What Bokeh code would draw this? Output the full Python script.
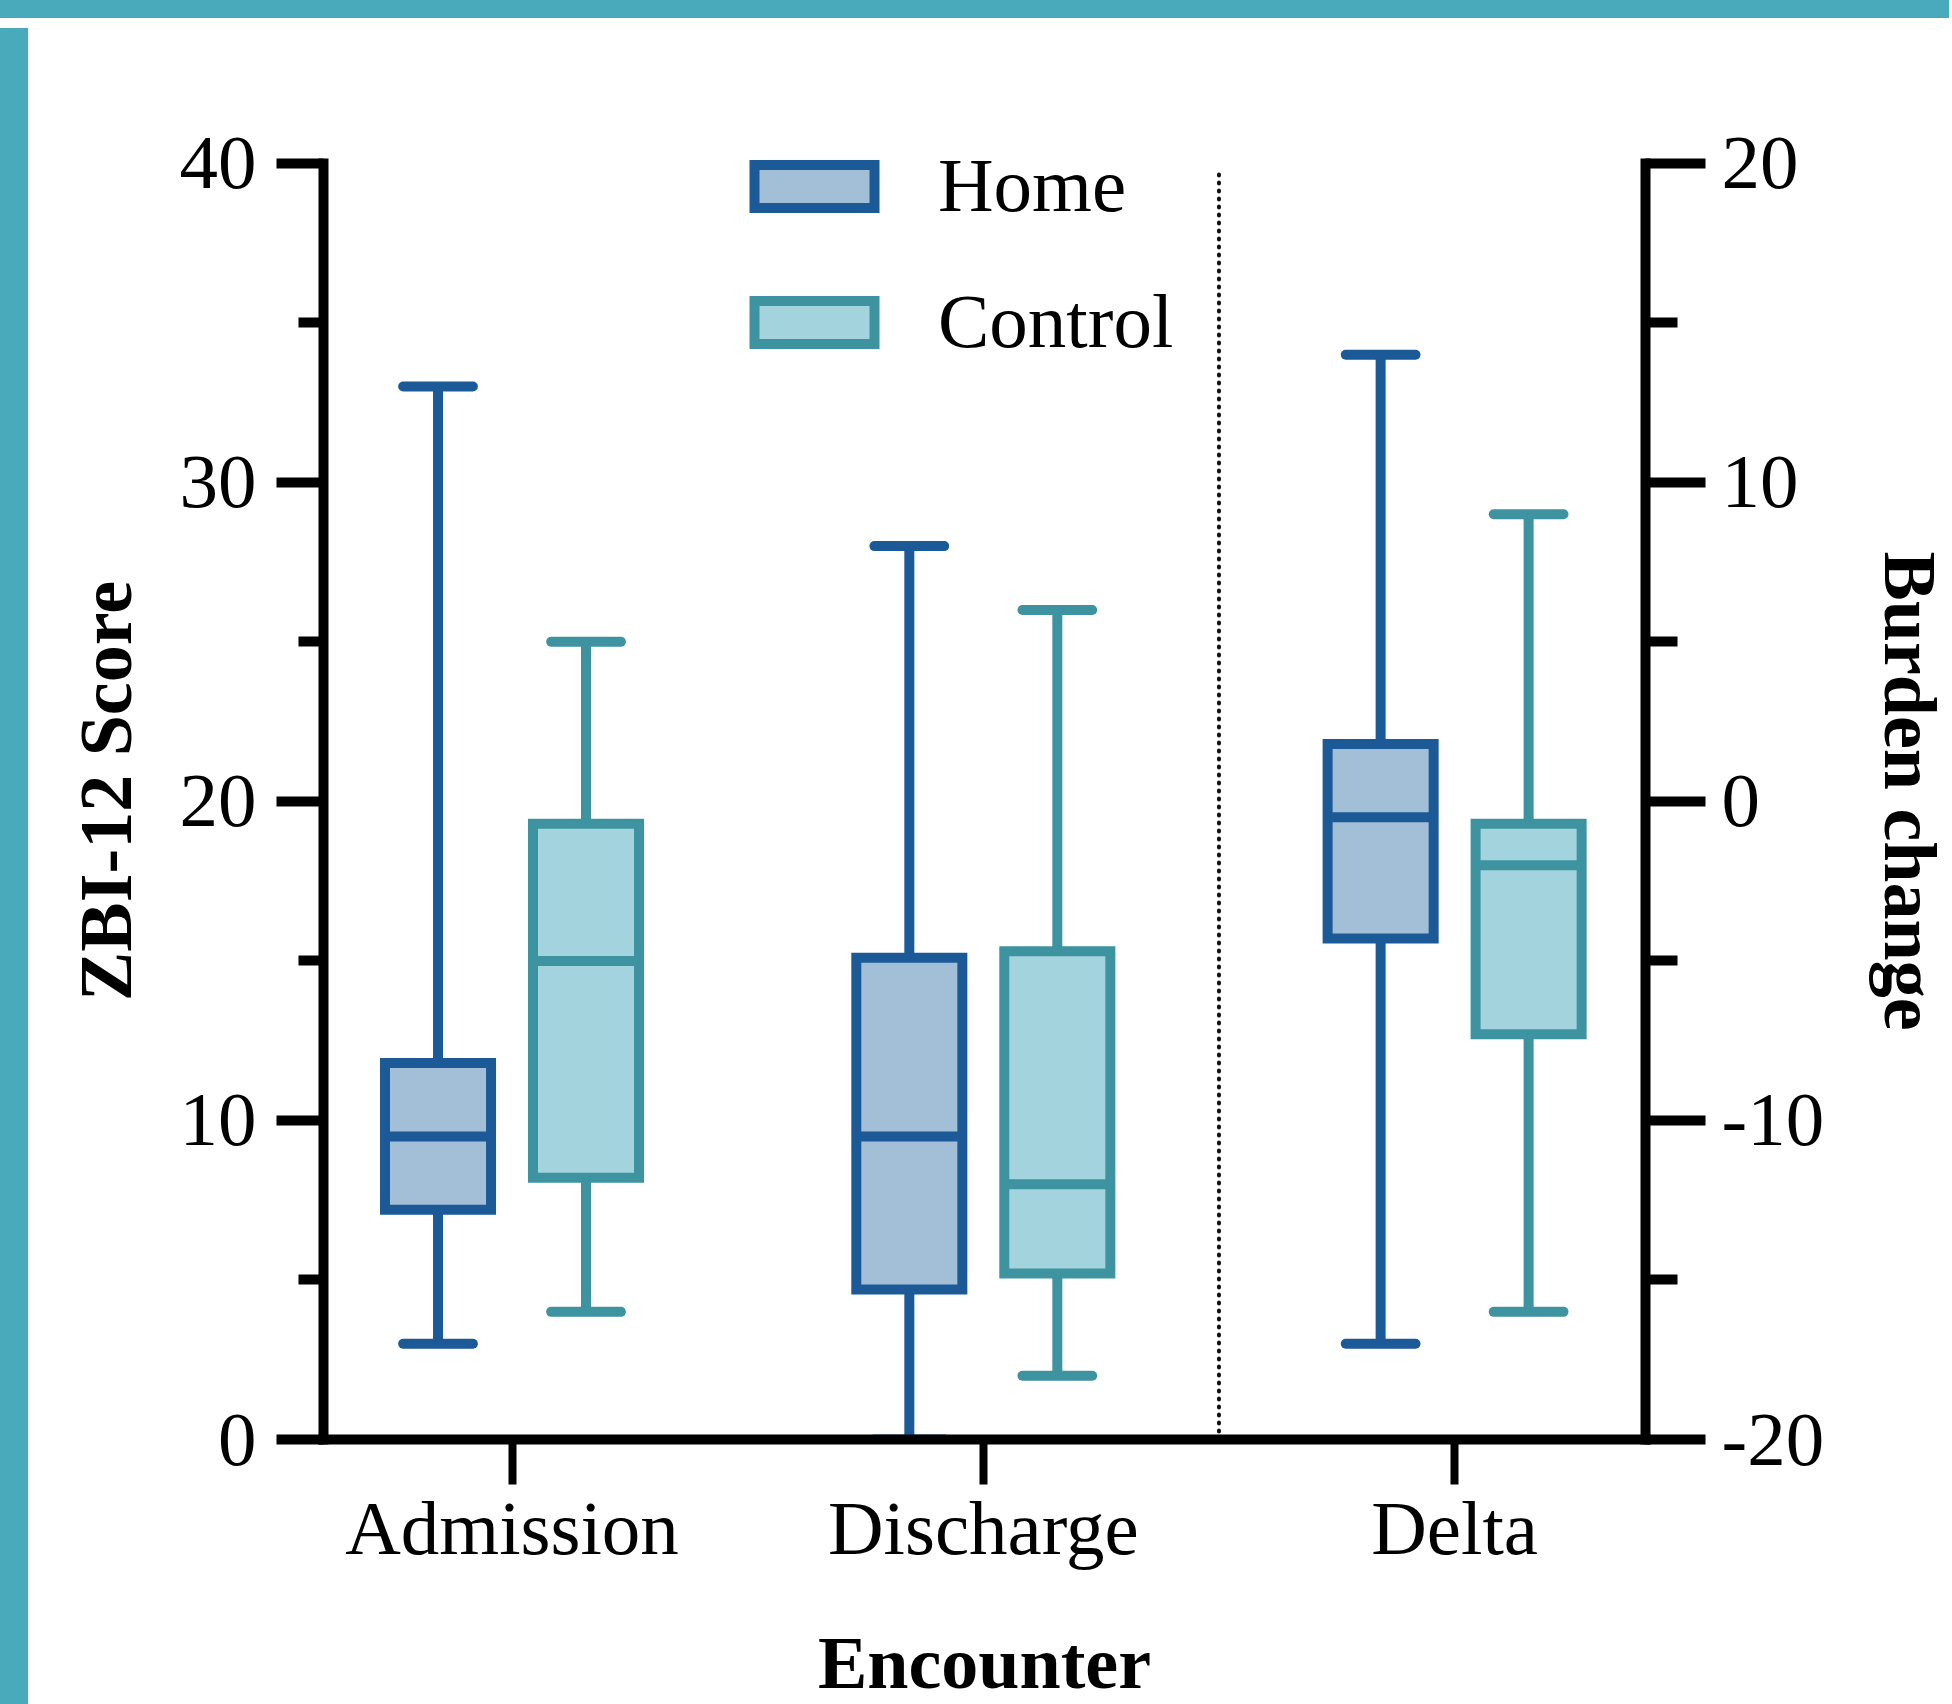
from bokeh.plotting import figure
from bokeh.models import (Range1d, LinearAxis, FixedTicker, ColumnDataSource,
                          Legend, LegendItem, Div)
from bokeh.layouts import row, column
from bokeh.embed import file_html
from bokeh.resources import INLINE

# ---------------- data ----------------
categories = ["Admission", "Discharge", "Delta"]
# Home group: whisker min, Q1, median, Q3, whisker max
home_min = [3, 0, -17]
home_q1 = [7.2, 4.7, -4.3]
home_med = [9.5, 9.5, -0.5]
home_q3 = [11.8, 15.1, 1.8]
home_max = [33, 28, 14]
# Control group
ctrl_min = [4, 2, -16]
ctrl_q1 = [8.2, 5.2, -7.3]
ctrl_med = [15, 8, -2]
ctrl_q3 = [19.3, 15.3, -0.7]
ctrl_max = [25, 26, 9]

left_ticks = [0, 10, 20, 30, 40]
left_minor = [5, 15, 25, 35]
right_ticks = [-20, -10, 0, 10, 20]
right_minor = [-15, -5, 5, 15]
series_names = ["Home", "Control"]

# ---------------- style ----------------
TEAL = "#48aaba"
HOME_LINE, HOME_FILL = "#1b5a96", "#a3bed7"
CTRL_LINE, CTRL_FILL = "#3d93a0", "#a3d4de"
FONT = "Liberation Serif"
BOX_W = 0.225
OFFSET = 0.157
CAP = 0.074
HEADROOM = 0.65  # small extra frame space above the axes' top so the legend is not clipped

W, H = 1921, 1683
p = figure(width=W, height=H, output_backend="svg", toolbar_location=None,
           x_range=Range1d(-0.4, 2.405),
           y_range=Range1d(left_ticks[0], left_ticks[-1] + HEADROOM),
           min_border_left=290, min_border_right=305, min_border_top=119,
           min_border_bottom=265)
p.extra_y_ranges = {"right": Range1d(right_ticks[0], right_ticks[-1] + HEADROOM)}
p.xgrid.visible = False
p.ygrid.visible = False
p.outline_line_color = None
p.background_fill_color = "white"
p.border_fill_color = "white"


def draw_group(idx, offset, mins, q1, med, q3, maxs, lc, fc):
    boxes = []
    # left axis: Admission & Discharge; right axis: Delta
    for sel, rng in (([0, 1], "default"), ([2], "right")):
        xs = [idx[i] + offset for i in sel]
        src = ColumnDataSource(dict(
            x=xs, lo=[mins[i] for i in sel], q1=[q1[i] for i in sel],
            med=[med[i] for i in sel], q3=[q3[i] for i in sel],
            hi=[maxs[i] for i in sel],
            cl=[x - CAP for x in xs], cr=[x + CAP for x in xs],
            bl=[x - BOX_W / 2 for x in xs], br=[x + BOX_W / 2 for x in xs]))
        kw = dict(source=src, line_color=lc, line_width=10, y_range_name=rng)
        p.segment(x0="x", y0="q3", x1="x", y1="hi", **kw)
        p.segment(x0="x", y0="lo", x1="x", y1="q1", **kw)
        p.segment(x0="cl", y0="hi", x1="cr", y1="hi", line_cap="round", **kw)
        p.segment(x0="cl", y0="lo", x1="cr", y1="lo", line_cap="round", **kw)
        b = p.quad(left="bl", right="br", bottom="q1", top="q3", fill_color=fc,
                   line_join="miter", **kw)
        p.segment(x0="bl", y0="med", x1="br", y1="med", **kw)
        boxes.append(b)
    return boxes[0]


idx = list(range(len(categories)))
home_r = draw_group(idx, -OFFSET, home_min, home_q1, home_med, home_q3, home_max,
                    HOME_LINE, HOME_FILL)
ctrl_r = draw_group(idx, OFFSET, ctrl_min, ctrl_q1, ctrl_med, ctrl_q3, ctrl_max,
                    CTRL_LINE, CTRL_FILL)

# dotted separator between Discharge and Delta
sep_x = (idx[1] + idx[2]) / 2
p.segment(x0=[sep_x], y0=[left_ticks[0]], x1=[sep_x], y1=[left_ticks[-1] * 0.992],
          line_color="#111111", line_width=4, line_dash="1 7", line_cap="round")

# ---------------- axes ----------------
def style_axis(ax, tick_out, minor_out):
    ax.axis_line_width = 10
    ax.axis_line_cap = "square"
    ax.major_tick_line_width = 10
    ax.minor_tick_line_width = 10
    ax.major_tick_in = 0
    ax.minor_tick_in = 0
    ax.major_tick_out = tick_out
    ax.minor_tick_out = minor_out
    ax.major_label_text_font = FONT
    ax.major_label_text_font_size = "77px"
    ax.major_label_text_color = "black"
    ax.axis_label_text_font = FONT
    ax.axis_label_text_font_style = "bold"
    ax.axis_label_text_font_size = "74px"
    ax.axis_label_text_color = "black"


ly = p.yaxis[0]
ly.ticker = FixedTicker(ticks=left_ticks, minor_ticks=left_minor)
ly.bounds = (left_ticks[0], left_ticks[-1])
ly.axis_label = "ZBI-12 Score"
style_axis(ly, 47, 25)
ly.major_label_standoff = 20
ly.axis_label_standoff = 30

ry = LinearAxis(y_range_name="right",
                ticker=FixedTicker(ticks=right_ticks, minor_ticks=right_minor),
                axis_label="Burden change")
ry.bounds = (right_ticks[0], right_ticks[-1])
ry.major_label_overrides = {t: str(t) for t in right_ticks}
style_axis(ry, 60, 32)
ry.major_label_standoff = 16
ry.axis_label_standoff = 42
p.add_layout(ry, "right")

bx = p.xaxis[0]
bx.ticker = FixedTicker(ticks=idx)
bx.major_label_overrides = {i: c for i, c in zip(idx, categories)}
bx.axis_label = "Encounter"
style_axis(bx, 45, 0)
bx.major_tick_line_width = 8
bx.minor_tick_line_color = None
bx.major_label_standoff = 0
bx.axis_label_standoff = 48

# ---------------- legend ----------------
legend = Legend(items=[LegendItem(label=series_names[0], renderers=[home_r]),
                       LegendItem(label=series_names[1], renderers=[ctrl_r])],
                location=(416, 1073), glyph_width=150, glyph_height=54,
                label_standoff=49, spacing=47, padding=0, margin=0,
                label_height=54,
                label_text_font=FONT, label_text_font_size="77px",
                label_text_color="black",
                border_line_color=None, background_fill_alpha=0)
p.add_layout(legend)

top_bar = Div(text="", width=W + 31, height=21, styles={"background-color": TEAL})
left_bar = Div(text="", width=31, height=H, styles={"background-color": TEAL})
layout = column(top_bar, row(left_bar, p, spacing=0), spacing=0,
                styles={"margin": "-8px"})

open("out.html", "w").write(file_html(layout, INLINE))
